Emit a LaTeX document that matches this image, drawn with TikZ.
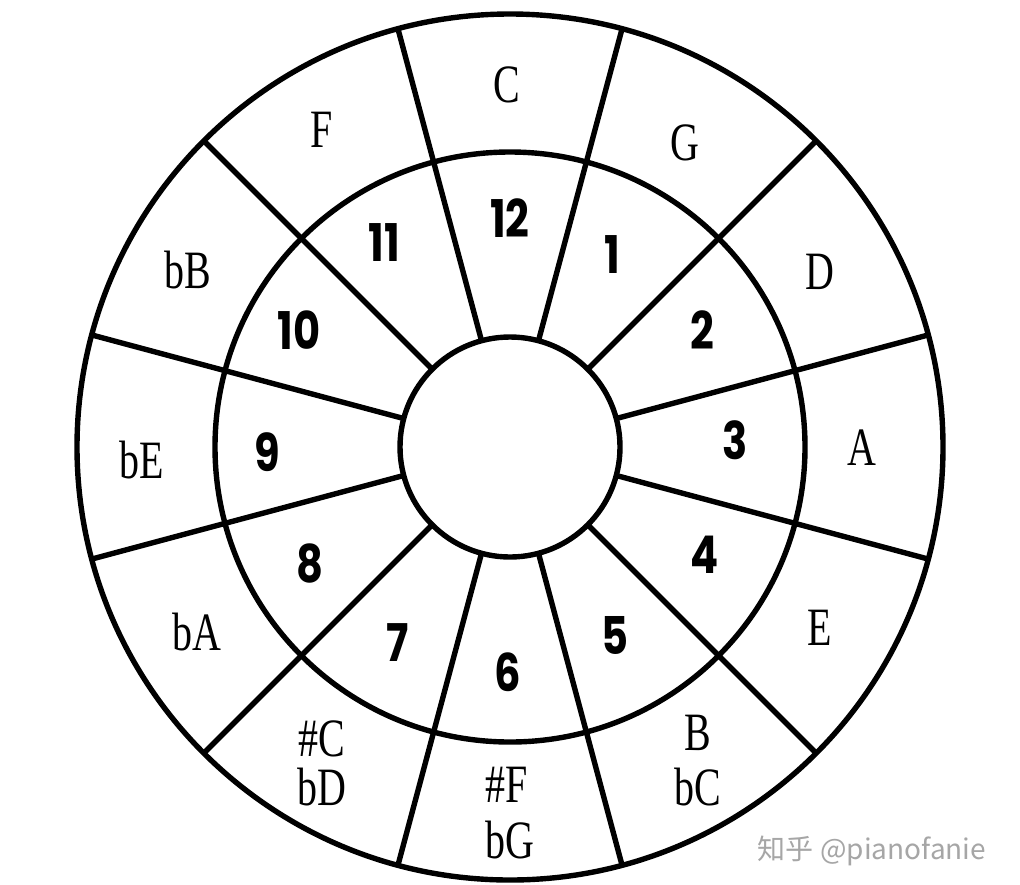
\documentclass[tikz,border=0pt]{standalone}
\usepackage{fontspec}
\setmainfont{Liberation Serif}
\newfontfamily\notefont[FakeStretch=0.74]{Liberation Serif}
\newfontfamily\numfont[FakeStretch=0.8]{Poppins}
\newfontfamily\cjk{Noto Sans CJK SC}
\begin{document}
\begin{tikzpicture}[x=0.5pt,y=-0.5pt,
  ring/.style={circle,draw,line width=2.7pt,inner sep=0pt,outer sep=0pt},
  spoke/.style={line width=2.7pt},
  note/.style={font=\notefont\fontsize{27}{32}\selectfont,inner sep=0pt},
  num/.style={font=\numfont\bfseries\fontsize{26}{30}\selectfont,inner sep=0pt},
  wmark/.style={font=\cjk\fontsize{14}{16}\selectfont,text=black!35,inner sep=0pt}]
\useasboundingbox[fill=white] (0,0) rectangle (1020,884);
\coordinate (c) at (510,447);
\node[ring,minimum size=433pt] (outer) at (c) {};
\node[ring,minimum size=295pt] (middle) at (c) {};
\node[ring,minimum size=110pt] (inner) at (c) {};
\foreach \a in {15,45,...,345} \draw[spoke] (inner.\a) -- (outer.\a);
% outer ring: keys
\node[note] (kC)  at (507,85)  {C};
\node[note] (kG)  at (685,143) {G};
\node[note] (kD)  at (820,272) {D};
\node[note] (kA)  at (862,448) {A};
\node[note] (kE)  at (820,628) {E};
\node[note] (kB)  at (698,733) {B};
\node[note] (kbC) at (698,787) {bC};
\node[note] (kFs) at (507,785) {\#F};
\node[note] (kbG) at (510,840) {bG};
\node[note] (kCs) at (322,739) {\#C};
\node[note] (kbD) at (322,787) {bD};
\node[note] (kbA) at (197,632) {bA};
\node[note] (kbE) at (142,460) {bE};
\node[note] (kbB) at (188,270) {bB};
\node[note] (kF)  at (322,130) {F};
% middle ring: numbers
\node[num] (n12) at (510,218) {12};
\node[num] (n1)  at (612,255) {1};
\node[num] (n2)  at (702,330) {2};
\node[num] (n3)  at (735,440) {3};
\node[num] (n4)  at (705,555) {4};
\node[num] (n5)  at (615,635) {5};
\node[num] (n6)  at (508,672) {6};
\node[num] (n7)  at (398,643) {7};
\node[num] (n8)  at (310,563) {8};
\node[num] (n9)  at (267,452) {9};
\node[num] (n10) at (299,330) {10};
\node[num] (n11) at (384,243) {11};
% watermark
\node[wmark] (zh) at (872,851) {知乎 @pianofanie};
\end{tikzpicture}
\end{document}
